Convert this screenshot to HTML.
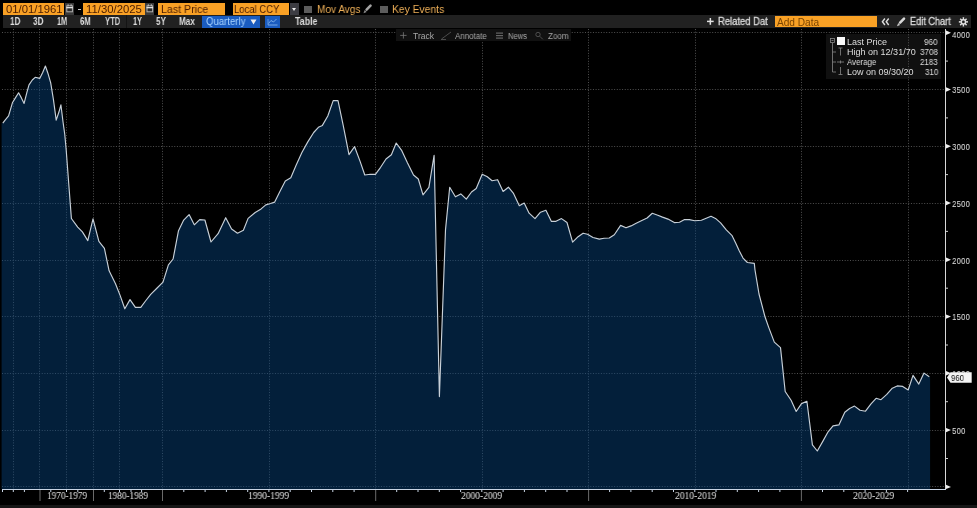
<!DOCTYPE html>
<html><head><meta charset="utf-8"><style>
*{margin:0;padding:0;box-sizing:border-box}
html,body{width:977px;height:508px;overflow:hidden;background:#000}
body{position:relative;font-family:"Liberation Sans",sans-serif}
.t{position:absolute;white-space:nowrap;line-height:1;transform-origin:0 0;will-change:transform}
.b{position:absolute}
svg{position:absolute;left:0;top:0}
</style></head><body>

<div class="b" style="left:826px;top:34px;width:115px;height:44.5px;background:#101010"></div>
<svg width="977" height="508" viewBox="0 0 977 508">
<line x1="13.5" y1="29" x2="13.5" y2="489" stroke="#505050" stroke-width="1" stroke-dasharray="1 1.65"/>
<line x1="39.5" y1="29" x2="39.5" y2="489" stroke="#505050" stroke-width="1" stroke-dasharray="1 1.65"/>
<line x1="66.5" y1="29" x2="66.5" y2="489" stroke="#505050" stroke-width="1" stroke-dasharray="1 1.65"/>
<line x1="93.5" y1="29" x2="93.5" y2="489" stroke="#505050" stroke-width="1" stroke-dasharray="1 1.65"/>
<line x1="119.5" y1="29" x2="119.5" y2="489" stroke="#505050" stroke-width="1" stroke-dasharray="1 1.65"/>
<line x1="162.5" y1="29" x2="162.5" y2="489" stroke="#505050" stroke-width="1" stroke-dasharray="1 1.65"/>
<line x1="269.5" y1="29" x2="269.5" y2="489" stroke="#505050" stroke-width="1" stroke-dasharray="1 1.65"/>
<line x1="375.5" y1="29" x2="375.5" y2="489" stroke="#505050" stroke-width="1" stroke-dasharray="1 1.65"/>
<line x1="482.5" y1="29" x2="482.5" y2="489" stroke="#505050" stroke-width="1" stroke-dasharray="1 1.65"/>
<line x1="588.5" y1="29" x2="588.5" y2="489" stroke="#505050" stroke-width="1" stroke-dasharray="1 1.65"/>
<line x1="695.5" y1="29" x2="695.5" y2="489" stroke="#505050" stroke-width="1" stroke-dasharray="1 1.65"/>
<line x1="801.5" y1="29" x2="801.5" y2="489" stroke="#505050" stroke-width="1" stroke-dasharray="1 1.65"/>
<line x1="908.5" y1="29" x2="908.5" y2="489" stroke="#505050" stroke-width="1" stroke-dasharray="1 1.65"/>
<line x1="2" y1="32.5" x2="945" y2="32.5" stroke="#505050" stroke-width="1" stroke-dasharray="1 1.65"/>
<line x1="2" y1="89.5" x2="945" y2="89.5" stroke="#505050" stroke-width="1" stroke-dasharray="1 1.65"/>
<line x1="2" y1="146.5" x2="945" y2="146.5" stroke="#505050" stroke-width="1" stroke-dasharray="1 1.65"/>
<line x1="2" y1="203.5" x2="945" y2="203.5" stroke="#505050" stroke-width="1" stroke-dasharray="1 1.65"/>
<line x1="2" y1="260.5" x2="945" y2="260.5" stroke="#505050" stroke-width="1" stroke-dasharray="1 1.65"/>
<line x1="2" y1="316.5" x2="945" y2="316.5" stroke="#505050" stroke-width="1" stroke-dasharray="1 1.65"/>
<line x1="2" y1="373.5" x2="945" y2="373.5" stroke="#505050" stroke-width="1" stroke-dasharray="1 1.65"/>
<line x1="2" y1="430.5" x2="945" y2="430.5" stroke="#505050" stroke-width="1" stroke-dasharray="1 1.65"/>
<line x1="2" y1="486.5" x2="945" y2="486.5" stroke="#505050" stroke-width="1" stroke-dasharray="1 1.65"/>
<path d="M1.6,489.0 L1.6,123.2 L2.8,123.2 L5.5,119.6 L8.6,115.9 L12.4,102.8 L15.4,97.9 L18.6,92.8 L21.4,97.9 L24.1,103.4 L26.9,92.4 L29.0,84.8 L32.3,80.0 L35.2,77.3 L39.7,78.4 L42.7,72.5 L45.4,66.0 L47.9,73.2 L50.7,82.8 L53.4,99.4 L56.2,120.1 L59.0,111.8 L60.9,104.8 L63.1,122.5 L64.7,133.8 L66.2,150.0 L68.7,183.3 L71.4,218.5 L77.7,227.1 L82.4,231.9 L87.8,240.6 L93.0,218.9 L98.9,241.3 L104.4,248.4 L109.1,270.8 L115.5,283.8 L120.2,295.6 L124.8,308.8 L130.0,299.6 L135.4,307.4 L140.8,307.4 L145.5,301.0 L150.7,294.4 L156.6,288.5 L163.0,282.1 L168.4,264.9 L173.1,259.0 L178.5,230.7 L183.7,220.1 L189.1,214.6 L194.3,224.8 L199.7,219.6 L204.9,220.0 L211.0,242.0 L218.1,233.7 L225.7,217.7 L231.6,229.0 L237.5,233.2 L243.4,230.2 L248.1,218.4 L255.2,212.5 L261.1,208.9 L265.8,204.9 L270.5,203.5 L274.7,202.1 L279.9,191.5 L285.3,180.9 L290.8,177.8 L296.0,165.5 L301.9,152.5 L307.8,141.9 L313.7,132.5 L318.4,127.3 L322.4,125.4 L327.8,116.0 L333.2,100.6 L338.0,100.6 L343.2,125.4 L349.0,154.7 L354.6,146.7 L360.1,161.4 L364.8,175.0 L370.2,174.3 L375.4,174.3 L380.6,167.3 L386.0,159.0 L391.4,154.7 L396.2,143.0 L401.8,150.7 L407.3,162.5 L413.5,175.0 L418.3,179.0 L423.0,194.9 L428.9,187.3 L434.1,155.4 L439.4,396.6 L445.5,229.9 L449.7,187.3 L455.4,196.8 L460.8,193.9 L466.3,199.1 L471.5,192.0 L476.2,188.5 L482.2,174.2 L487.3,176.7 L492.1,180.7 L497.6,179.7 L503.1,191.5 L508.4,187.2 L513.3,193.1 L519.3,205.7 L524.2,203.0 L529.1,213.2 L535.0,218.7 L540.5,212.2 L545.9,210.2 L551.3,221.3 L556.0,221.3 L561.5,218.6 L567.0,222.5 L572.6,242.2 L578.1,236.7 L583.1,233.2 L587.5,234.3 L593.0,237.5 L599.3,239.1 L604.1,238.3 L609.3,238.0 L614.3,234.8 L620.6,225.4 L626.0,227.8 L631.0,225.9 L635.7,223.4 L641.3,220.7 L647.1,218.0 L652.3,213.3 L657.8,215.2 L662.5,217.1 L668.0,219.1 L674.3,222.6 L679.5,222.3 L684.6,219.6 L689.3,219.6 L694.8,220.7 L701.4,220.2 L711.0,216.3 L715.5,218.4 L720.6,222.9 L726.3,229.9 L732.1,235.7 L735.9,243.4 L739.1,250.4 L743.0,258.1 L747.4,262.5 L754.3,263.4 L755.0,270.0 L759.0,294.0 L764.9,316.5 L768.8,327.6 L774.3,342.1 L780.5,347.6 L785.2,391.5 L791.1,400.3 L796.2,411.5 L801.5,403.6 L806.9,401.3 L812.4,444.9 L817.3,451.0 L823.2,440.6 L828.1,431.8 L833.0,425.9 L838.9,424.9 L844.8,412.3 L849.6,408.5 L854.5,406.1 L860.0,410.3 L865.5,411.2 L871.0,403.8 L876.1,398.3 L881.0,399.7 L886.8,394.4 L892.3,388.2 L897.2,385.9 L902.7,386.4 L908.2,390.0 L913.0,375.4 L918.8,384.1 L924.0,373.1 L929.3,376.8 L930.1,377.3 L930.1,489.0 Z" fill="#074581" fill-opacity="0.45"/>
<polyline points="2.8,123.2 5.5,119.6 8.6,115.9 12.4,102.8 15.4,97.9 18.6,92.8 21.4,97.9 24.1,103.4 26.9,92.4 29.0,84.8 32.3,80.0 35.2,77.3 39.7,78.4 42.7,72.5 45.4,66.0 47.9,73.2 50.7,82.8 53.4,99.4 56.2,120.1 59.0,111.8 60.9,104.8 63.1,122.5 64.7,133.8 66.2,150.0 68.7,183.3 71.4,218.5 77.7,227.1 82.4,231.9 87.8,240.6 93.0,218.9 98.9,241.3 104.4,248.4 109.1,270.8 115.5,283.8 120.2,295.6 124.8,308.8 130.0,299.6 135.4,307.4 140.8,307.4 145.5,301.0 150.7,294.4 156.6,288.5 163.0,282.1 168.4,264.9 173.1,259.0 178.5,230.7 183.7,220.1 189.1,214.6 194.3,224.8 199.7,219.6 204.9,220.0 211.0,242.0 218.1,233.7 225.7,217.7 231.6,229.0 237.5,233.2 243.4,230.2 248.1,218.4 255.2,212.5 261.1,208.9 265.8,204.9 270.5,203.5 274.7,202.1 279.9,191.5 285.3,180.9 290.8,177.8 296.0,165.5 301.9,152.5 307.8,141.9 313.7,132.5 318.4,127.3 322.4,125.4 327.8,116.0 333.2,100.6 338.0,100.6 343.2,125.4 349.0,154.7 354.6,146.7 360.1,161.4 364.8,175.0 370.2,174.3 375.4,174.3 380.6,167.3 386.0,159.0 391.4,154.7 396.2,143.0 401.8,150.7 407.3,162.5 413.5,175.0 418.3,179.0 423.0,194.9 428.9,187.3 434.1,155.4 439.4,396.6 445.5,229.9 449.7,187.3 455.4,196.8 460.8,193.9 466.3,199.1 471.5,192.0 476.2,188.5 482.2,174.2 487.3,176.7 492.1,180.7 497.6,179.7 503.1,191.5 508.4,187.2 513.3,193.1 519.3,205.7 524.2,203.0 529.1,213.2 535.0,218.7 540.5,212.2 545.9,210.2 551.3,221.3 556.0,221.3 561.5,218.6 567.0,222.5 572.6,242.2 578.1,236.7 583.1,233.2 587.5,234.3 593.0,237.5 599.3,239.1 604.1,238.3 609.3,238.0 614.3,234.8 620.6,225.4 626.0,227.8 631.0,225.9 635.7,223.4 641.3,220.7 647.1,218.0 652.3,213.3 657.8,215.2 662.5,217.1 668.0,219.1 674.3,222.6 679.5,222.3 684.6,219.6 689.3,219.6 694.8,220.7 701.4,220.2 711.0,216.3 715.5,218.4 720.6,222.9 726.3,229.9 732.1,235.7 735.9,243.4 739.1,250.4 743.0,258.1 747.4,262.5 754.3,263.4 755.0,270.0 759.0,294.0 764.9,316.5 768.8,327.6 774.3,342.1 780.5,347.6 785.2,391.5 791.1,400.3 796.2,411.5 801.5,403.6 806.9,401.3 812.4,444.9 817.3,451.0 823.2,440.6 828.1,431.8 833.0,425.9 838.9,424.9 844.8,412.3 849.6,408.5 854.5,406.1 860.0,410.3 865.5,411.2 871.0,403.8 876.1,398.3 881.0,399.7 886.8,394.4 892.3,388.2 897.2,385.9 902.7,386.4 908.2,390.0 913.0,375.4 918.8,384.1 924.0,373.1 929.3,376.8" fill="none" stroke="#c8d0d8" stroke-width="1.15" stroke-linejoin="round"/>
<line x1="945.5" y1="29" x2="945.5" y2="490" stroke="#d8d8d8" stroke-width="1"/>
<line x1="2" y1="489.5" x2="946" y2="489.5" stroke="#c8d4e4" stroke-width="1"/>
<path d="M946,484.7 L951,486.9 L946,489.1 Z" fill="#eee"/>
<line x1="946" y1="458.5" x2="948" y2="458.5" stroke="#ccc" stroke-width="1"/>
<path d="M946,427.9 L951,430.1 L946,432.3 Z" fill="#eee"/>
<line x1="946" y1="401.7" x2="948" y2="401.7" stroke="#ccc" stroke-width="1"/>
<path d="M946,371.1 L951,373.3 L946,375.5 Z" fill="#eee"/>
<line x1="946" y1="345.0" x2="948" y2="345.0" stroke="#ccc" stroke-width="1"/>
<path d="M946,314.4 L951,316.6 L946,318.8 Z" fill="#eee"/>
<line x1="946" y1="288.2" x2="948" y2="288.2" stroke="#ccc" stroke-width="1"/>
<path d="M946,257.6 L951,259.8 L946,262.0 Z" fill="#eee"/>
<line x1="946" y1="231.4" x2="948" y2="231.4" stroke="#ccc" stroke-width="1"/>
<path d="M946,200.8 L951,203.0 L946,205.2 Z" fill="#eee"/>
<line x1="946" y1="174.6" x2="948" y2="174.6" stroke="#ccc" stroke-width="1"/>
<path d="M946,144.1 L951,146.2 L946,148.4 Z" fill="#eee"/>
<line x1="946" y1="117.9" x2="948" y2="117.9" stroke="#ccc" stroke-width="1"/>
<path d="M946,87.3 L951,89.5 L946,91.7 Z" fill="#eee"/>
<line x1="946" y1="61.1" x2="948" y2="61.1" stroke="#ccc" stroke-width="1"/>
<path d="M946,30.5 L951,32.7 L946,34.9 Z" fill="#eee"/>
<line x1="40" y1="490" x2="40" y2="501" stroke="#6a6a6a" stroke-width="1"/>
<line x1="93.5" y1="490" x2="93.5" y2="501" stroke="#6a6a6a" stroke-width="1"/>
<line x1="162.5" y1="490" x2="162.5" y2="501" stroke="#6a6a6a" stroke-width="1"/>
<line x1="375.7" y1="490" x2="375.7" y2="501" stroke="#6a6a6a" stroke-width="1"/>
<line x1="588.6" y1="490" x2="588.6" y2="501" stroke="#6a6a6a" stroke-width="1"/>
<line x1="801.4" y1="490" x2="801.4" y2="501" stroke="#6a6a6a" stroke-width="1"/>
<line x1="2.5" y1="490" x2="2.5" y2="492" stroke="#c8d4e4" stroke-width="1"/>
<line x1="13.3" y1="490" x2="13.3" y2="492" stroke="#c8d4e4" stroke-width="1"/>
<line x1="24.4" y1="490" x2="24.4" y2="492" stroke="#c8d4e4" stroke-width="1"/>
<line x1="50.8" y1="490" x2="50.8" y2="492" stroke="#c8d4e4" stroke-width="1"/>
<line x1="66.5" y1="490" x2="66.5" y2="492" stroke="#c8d4e4" stroke-width="1"/>
<line x1="77.8" y1="490" x2="77.8" y2="492" stroke="#c8d4e4" stroke-width="1"/>
<line x1="104.3" y1="490" x2="104.3" y2="492" stroke="#c8d4e4" stroke-width="1"/>
<line x1="119.5" y1="490" x2="119.5" y2="492" stroke="#c8d4e4" stroke-width="1"/>
<line x1="131.0" y1="490" x2="131.0" y2="492" stroke="#c8d4e4" stroke-width="1"/>
<line x1="141.6" y1="490" x2="141.6" y2="492" stroke="#c8d4e4" stroke-width="1"/>
<line x1="183.8" y1="490" x2="183.8" y2="492" stroke="#c8d4e4" stroke-width="1"/>
<line x1="205.1" y1="490" x2="205.1" y2="492" stroke="#c8d4e4" stroke-width="1"/>
<line x1="226.4" y1="490" x2="226.4" y2="492" stroke="#c8d4e4" stroke-width="1"/>
<line x1="247.7" y1="490" x2="247.7" y2="492" stroke="#c8d4e4" stroke-width="1"/>
<line x1="268.9" y1="490" x2="268.9" y2="492" stroke="#c8d4e4" stroke-width="1"/>
<line x1="290.2" y1="490" x2="290.2" y2="492" stroke="#c8d4e4" stroke-width="1"/>
<line x1="311.5" y1="490" x2="311.5" y2="492" stroke="#c8d4e4" stroke-width="1"/>
<line x1="332.8" y1="490" x2="332.8" y2="492" stroke="#c8d4e4" stroke-width="1"/>
<line x1="354.1" y1="490" x2="354.1" y2="492" stroke="#c8d4e4" stroke-width="1"/>
<line x1="396.7" y1="490" x2="396.7" y2="492" stroke="#c8d4e4" stroke-width="1"/>
<line x1="418.0" y1="490" x2="418.0" y2="492" stroke="#c8d4e4" stroke-width="1"/>
<line x1="439.3" y1="490" x2="439.3" y2="492" stroke="#c8d4e4" stroke-width="1"/>
<line x1="460.6" y1="490" x2="460.6" y2="492" stroke="#c8d4e4" stroke-width="1"/>
<line x1="481.8" y1="490" x2="481.8" y2="492" stroke="#c8d4e4" stroke-width="1"/>
<line x1="503.1" y1="490" x2="503.1" y2="492" stroke="#c8d4e4" stroke-width="1"/>
<line x1="524.4" y1="490" x2="524.4" y2="492" stroke="#c8d4e4" stroke-width="1"/>
<line x1="545.7" y1="490" x2="545.7" y2="492" stroke="#c8d4e4" stroke-width="1"/>
<line x1="567.0" y1="490" x2="567.0" y2="492" stroke="#c8d4e4" stroke-width="1"/>
<line x1="609.6" y1="490" x2="609.6" y2="492" stroke="#c8d4e4" stroke-width="1"/>
<line x1="630.9" y1="490" x2="630.9" y2="492" stroke="#c8d4e4" stroke-width="1"/>
<line x1="652.2" y1="490" x2="652.2" y2="492" stroke="#c8d4e4" stroke-width="1"/>
<line x1="673.5" y1="490" x2="673.5" y2="492" stroke="#c8d4e4" stroke-width="1"/>
<line x1="694.8" y1="490" x2="694.8" y2="492" stroke="#c8d4e4" stroke-width="1"/>
<line x1="716.0" y1="490" x2="716.0" y2="492" stroke="#c8d4e4" stroke-width="1"/>
<line x1="737.3" y1="490" x2="737.3" y2="492" stroke="#c8d4e4" stroke-width="1"/>
<line x1="758.6" y1="490" x2="758.6" y2="492" stroke="#c8d4e4" stroke-width="1"/>
<line x1="779.9" y1="490" x2="779.9" y2="492" stroke="#c8d4e4" stroke-width="1"/>
<line x1="822.5" y1="490" x2="822.5" y2="492" stroke="#c8d4e4" stroke-width="1"/>
<line x1="843.8" y1="490" x2="843.8" y2="492" stroke="#c8d4e4" stroke-width="1"/>
<line x1="865.1" y1="490" x2="865.1" y2="492" stroke="#c8d4e4" stroke-width="1"/>
<line x1="886.4" y1="490" x2="886.4" y2="492" stroke="#c8d4e4" stroke-width="1"/>
<line x1="907.6" y1="490" x2="907.6" y2="492" stroke="#c8d4e4" stroke-width="1"/>
</svg>
<div class="b" style="left:3px;top:3px;width:61px;height:12px;background:#f9a125"></div>
<div class="b" style="left:83px;top:3px;width:61.5px;height:12px;background:#f9a125"></div>
<div class="b" style="left:158px;top:3px;width:67px;height:12px;background:#f9a125"></div>
<div class="b" style="left:232.5px;top:3px;width:56px;height:12px;background:#f9a125"></div>
<div class="b" style="left:64.8px;top:3px;width:9.2px;height:12px;background:#3a3a3a"></div>
<svg width="977" height="508"><g transform="translate(0.0,0)"><rect x="66.8" y="5.8" width="5.6" height="6" fill="#2a2a2a" stroke="#b0b0b0" stroke-width="1"/><rect x="66.3" y="7" width="6.6" height="1.3" fill="#e0e0e0"/><rect x="67.6" y="4.3" width="1" height="2" fill="#c0c0c0"/><rect x="70.6" y="4.3" width="1" height="2" fill="#c0c0c0"/></g></svg>
<div class="b" style="left:145px;top:3px;width:9.2px;height:12px;background:#3a3a3a"></div>
<svg width="977" height="508"><g transform="translate(80.2,0)"><rect x="66.8" y="5.8" width="5.6" height="6" fill="#2a2a2a" stroke="#b0b0b0" stroke-width="1"/><rect x="66.3" y="7" width="6.6" height="1.3" fill="#e0e0e0"/><rect x="67.6" y="4.3" width="1" height="2" fill="#c0c0c0"/><rect x="70.6" y="4.3" width="1" height="2" fill="#c0c0c0"/></g></svg>
<div class="b" style="left:77.5px;top:9px;width:3.4px;height:1.2px;background:#c8c8c8"></div>
<div class="b" style="left:289.5px;top:3px;width:9px;height:12px;background:#3c3c42"></div>
<div class="b" style="left:291.5px;top:7.5px;width:0;height:0;border-left:2.5px solid transparent;border-right:2.5px solid transparent;border-top:3px solid #eee"></div>
<div class="b" style="left:304px;top:5.5px;width:7.5px;height:7.5px;background:#5c5c5c"></div>
<div class="b" style="left:380px;top:5.5px;width:7.5px;height:7.5px;background:#5c5c5c"></div>
<svg width="977" height="508"><g transform="translate(0,0)"><line x1="366.6" y1="9.6" x2="370.5" y2="5.7" stroke="#a4a4a4" stroke-width="2.6" stroke-linecap="round"/><path d="M363.5,13.3 L364.7,10.1 L366.7,12.1 Z" fill="#8a8a8a"/></g></svg>
<div class="t" style="left:6.10px;top:4.00px;font-size:11px;color:#4a1c00;transform:scaleX(1.028);">01/01/1961</div>
<div class="t" style="left:86.10px;top:4.00px;font-size:11px;color:#4a1c00;transform:scaleX(1.029);">11/30/2025</div>
<div class="t" style="left:160.50px;top:4.00px;font-size:11px;color:#4a1c00;transform:scaleX(0.967);">Last Price</div>
<div class="t" style="left:233.70px;top:4.00px;font-size:11px;color:#4a1c00;transform:scaleX(0.863);">Local CCY</div>
<div class="t" style="left:316.80px;top:4.00px;font-size:11px;color:#efb058;transform:scaleX(0.916);">Mov Avgs</div>
<div class="t" style="left:391.90px;top:4.00px;font-size:11px;color:#efb058;transform:scaleX(0.938);">Key Events</div>
<div class="b" style="left:3px;top:15px;width:968px;height:12.8px;background:#212121"></div>
<div class="b" style="left:126px;top:15px;width:1px;height:12.8px;background:#141414"></div>
<div class="b" style="left:202px;top:16px;width:57.5px;height:11.5px;background:#1a5cc0"></div>
<div class="b" style="left:265px;top:16px;width:15px;height:11.5px;background:#1a5cc0"></div>
<svg width="977" height="508"><path d="M268.5,23.5 L271,20.5 L273.5,22 L276.5,19" fill="none" stroke="#8fbcf0" stroke-width="0.8"/><line x1="268" y1="25" x2="277.5" y2="25" stroke="#8fbcf0" stroke-width="0.8"/><line x1="268" y1="19" x2="268" y2="25" stroke="#8fbcf0" stroke-width="0.6"/><path d="M250.5,19.5 L256.5,19.5 L253.5,24.5 Z" fill="#f0f0f0"/></svg>
<div class="t" style="left:9.60px;top:17.00px;font-size:10px;color:#dcdcdc;transform:scaleX(0.812);font-weight:bold;">1D</div>
<div class="t" style="left:32.90px;top:17.00px;font-size:10px;color:#dcdcdc;transform:scaleX(0.828);font-weight:bold;">3D</div>
<div class="t" style="left:56.80px;top:17.00px;font-size:10px;color:#dcdcdc;transform:scaleX(0.734);font-weight:bold;">1M</div>
<div class="t" style="left:80.30px;top:17.00px;font-size:10px;color:#dcdcdc;transform:scaleX(0.777);font-weight:bold;">6M</div>
<div class="t" style="left:104.60px;top:17.00px;font-size:10px;color:#dcdcdc;transform:scaleX(0.760);font-weight:bold;">YTD</div>
<div class="t" style="left:133.30px;top:17.00px;font-size:10px;color:#dcdcdc;transform:scaleX(0.735);font-weight:bold;">1Y</div>
<div class="t" style="left:155.80px;top:17.00px;font-size:10px;color:#dcdcdc;transform:scaleX(0.824);font-weight:bold;">5Y</div>
<div class="t" style="left:178.90px;top:17.00px;font-size:10px;color:#dcdcdc;transform:scaleX(0.812);font-weight:bold;">Max</div>
<div class="t" style="left:295.40px;top:17.00px;font-size:10px;color:#dcdcdc;transform:scaleX(0.886);font-weight:bold;">Table</div>
<div class="t" style="left:205.70px;top:16.00px;font-size:10.5px;color:#a8d4ff;transform:scaleX(0.914);">Quarterly</div>
<svg width="977" height="508"><g stroke="#e0e0e0" stroke-width="1.5"><line x1="707" y1="21.4" x2="713.7" y2="21.4"/><line x1="710.35" y1="18" x2="710.35" y2="24.8"/></g></svg>
<div class="t" style="left:718.00px;top:17.00px;font-size:10px;color:#dcdcdc;transform:scaleX(0.943);-webkit-text-stroke:0.3px #dcdcdc;">Related Dat</div>
<div class="b" style="left:774.7px;top:16px;width:102px;height:11px;background:#f9a125"></div>
<div class="t" style="left:776.60px;top:18.00px;font-size:10px;color:#7a4400;transform:scaleX(1.011);">Add Data</div>
<svg width="977" height="508"><g fill="none" stroke="#dcdcdc" stroke-width="1.4" stroke-linejoin="miter"><path d="M884.9,18.5 L882.4,21.7 L884.9,25"/><path d="M888.7,18.5 L886.2,21.7 L888.7,25"/></g></svg>
<svg width="977" height="508"><g transform="translate(533.5,13)"><line x1="366.6" y1="9.6" x2="370.5" y2="5.7" stroke="#d8d8d8" stroke-width="2.6" stroke-linecap="round"/><path d="M363.5,13.3 L364.7,10.1 L366.7,12.1 Z" fill="#c8c8c8"/></g></svg>
<div class="t" style="left:910.00px;top:17.00px;font-size:10px;color:#dcdcdc;transform:scaleX(0.916);-webkit-text-stroke:0.3px #dcdcdc;">Edit Chart</div>
<svg width="977" height="508"><path d="M967.93,21.12 L967.93,22.68 L966.33,22.56 L965.94,23.50 L967.16,24.56 L966.06,25.66 L965.00,24.44 L964.06,24.83 L964.18,26.43 L962.62,26.43 L962.74,24.83 L961.80,24.44 L960.74,25.66 L959.64,24.56 L960.86,23.50 L960.47,22.56 L958.87,22.68 L958.87,21.12 L960.47,21.24 L960.86,20.30 L959.64,19.24 L960.74,18.14 L961.80,19.36 L962.74,18.97 L962.62,17.37 L964.18,17.37 L964.06,18.97 L965.00,19.36 L966.06,18.14 L967.16,19.24 L965.94,20.30 L966.33,21.24 Z" fill="#e0e0e0"/><circle cx="963.4" cy="21.9" r="1.4" fill="#232323"/></svg>
<div class="b" style="left:396px;top:28.6px;width:175px;height:12.9px;background:#111"></div>
<div class="t" style="left:413.00px;top:32.00px;font-size:8.5px;color:#a8a8a8;transform:scaleX(0.995);">Track</div>
<div class="t" style="left:454.70px;top:32.00px;font-size:8.5px;color:#a8a8a8;transform:scaleX(0.937);">Annotate</div>
<div class="t" style="left:508.00px;top:32.00px;font-size:8.5px;color:#a8a8a8;transform:scaleX(0.894);">News</div>
<div class="t" style="left:548.00px;top:32.00px;font-size:8.5px;color:#a8a8a8;transform:scaleX(0.938);">Zoom</div>
<svg width="977" height="508"><g stroke="#5c5c5c" stroke-width="0.8" fill="none"><line x1="400.2" y1="35.4" x2="406.6" y2="35.4" stroke="#7a7a7a"/><line x1="403.4" y1="32.2" x2="403.4" y2="38.6" stroke="#7a7a7a"/><line x1="441.5" y1="39" x2="451" y2="32"/><line x1="441" y1="39.5" x2="446" y2="39.5"/><circle cx="538" cy="34.5" r="2.2"/><line x1="539.7" y1="36.2" x2="542.8" y2="39.3"/></g><rect x="496" y="32.5" width="7" height="1.2" fill="#666"/><rect x="496" y="35" width="7" height="1.2" fill="#666"/><rect x="496" y="37.5" width="7" height="1.2" fill="#666"/></svg>
<div class="b" style="left:836.5px;top:37.2px;width:8px;height:7.8px;background:#fafafa"></div>
<svg width="977" height="508"><g stroke="#888" stroke-width="0.8" fill="none"><rect x="830.5" y="38.5" width="4" height="4"/><line x1="831.5" y1="40.5" x2="833.5" y2="40.5"/><line x1="832.5" y1="43" x2="832.5" y2="72"/><line x1="832.5" y1="52" x2="836" y2="52"/><line x1="832.5" y1="62" x2="836" y2="62"/><line x1="832.5" y1="72" x2="836" y2="72"/><line x1="840.5" y1="48" x2="840.5" y2="55.5"/><line x1="838.5" y1="48" x2="842.5" y2="48"/><line x1="837" y1="62" x2="844" y2="62"/><line x1="840.5" y1="60.5" x2="840.5" y2="63.5"/><line x1="840.5" y1="67" x2="840.5" y2="74.5"/><line x1="838.5" y1="74.5" x2="842.5" y2="74.5"/></g></svg>
<div class="t" style="left:847.20px;top:38.00px;font-size:9px;color:#dedede;transform:scaleX(0.995);">Last Price</div>
<div class="t" style="left:924.30px;top:38.00px;font-size:9px;color:#dedede;transform:scaleX(0.900);">960</div>
<div class="t" style="left:847.20px;top:48.00px;font-size:9px;color:#dedede;transform:scaleX(1.002);">High on 12/31/70</div>
<div class="t" style="left:919.80px;top:48.00px;font-size:9px;color:#dedede;transform:scaleX(0.900);">3708</div>
<div class="t" style="left:847.20px;top:58.00px;font-size:9px;color:#dedede;transform:scaleX(0.882);">Average</div>
<div class="t" style="left:920.20px;top:58.00px;font-size:9px;color:#dedede;transform:scaleX(0.880);">2183</div>
<div class="t" style="left:847.20px;top:68.00px;font-size:9px;color:#dedede;transform:scaleX(0.999);">Low on 09/30/20</div>
<div class="t" style="left:924.50px;top:68.00px;font-size:9px;color:#dedede;transform:scaleX(0.887);">310</div>
<div class="t" style="left:951.90px;top:426.00px;font-size:9.85px;color:#e0e0e0;transform:scaleX(0.816);">500</div>
<div class="t" style="left:951.90px;top:369.00px;font-size:9.85px;color:#e0e0e0;transform:scaleX(0.817);">1000</div>
<div class="t" style="left:951.90px;top:312.00px;font-size:9.85px;color:#e0e0e0;transform:scaleX(0.817);">1500</div>
<div class="t" style="left:951.90px;top:256.00px;font-size:9.85px;color:#e0e0e0;transform:scaleX(0.817);">2000</div>
<div class="t" style="left:951.90px;top:199.00px;font-size:9.85px;color:#e0e0e0;transform:scaleX(0.817);">2500</div>
<div class="t" style="left:951.90px;top:142.00px;font-size:9.85px;color:#e0e0e0;transform:scaleX(0.817);">3000</div>
<div class="t" style="left:951.90px;top:85.00px;font-size:9.85px;color:#e0e0e0;transform:scaleX(0.817);">3500</div>
<div class="t" style="left:951.90px;top:30.00px;font-size:9.85px;color:#e0e0e0;transform:scaleX(0.817);">4000</div>
<svg width="977" height="508"><path d="M947,377.6 L950.5,372.3 L971.7,372.3 L971.7,382.8 L950.5,382.8 Z" fill="#f4f4f4"/></svg>
<div class="t" style="left:951.00px;top:373.00px;font-size:9.5px;color:#111;transform:scaleX(0.826);">960</div>
<div class="t" style="left:46.60px;top:491.00px;font-size:10px;color:#e2e2e2;transform:scaleX(0.925);font-family:'Liberation Serif',serif;">1970-1979</div>
<div class="t" style="left:108.00px;top:491.00px;font-size:10px;color:#e2e2e2;transform:scaleX(0.923);font-family:'Liberation Serif',serif;">1980-1989</div>
<div class="t" style="left:248.30px;top:491.00px;font-size:10px;color:#e2e2e2;transform:scaleX(0.950);font-family:'Liberation Serif',serif;">1990-1999</div>
<div class="t" style="left:461.20px;top:491.00px;font-size:10px;color:#e2e2e2;transform:scaleX(0.950);font-family:'Liberation Serif',serif;">2000-2009</div>
<div class="t" style="left:674.50px;top:491.00px;font-size:10px;color:#e2e2e2;transform:scaleX(0.955);font-family:'Liberation Serif',serif;">2010-2019</div>
<div class="t" style="left:852.80px;top:491.00px;font-size:10px;color:#e2e2e2;transform:scaleX(0.953);font-family:'Liberation Serif',serif;">2020-2029</div>
<div class="b" style="left:0;top:505.4px;width:977px;height:2.6px;background:#161616"></div>
</body></html>
